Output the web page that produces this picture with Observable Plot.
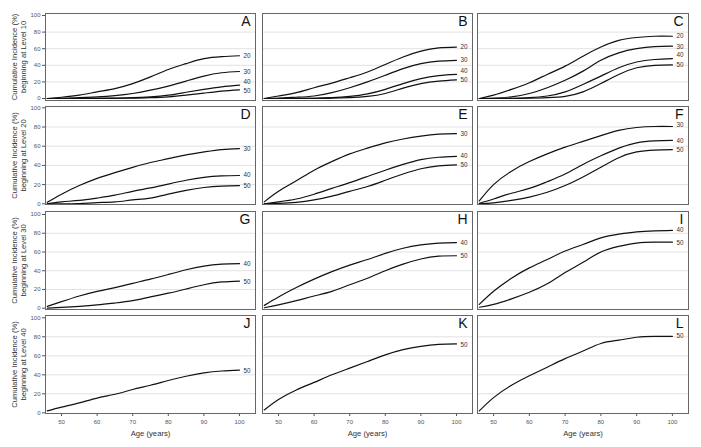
<!DOCTYPE html>
<html><head><meta charset="utf-8">
<script src="https://cdn.jsdelivr.net/npm/d3@7"></script>
<script src="https://cdn.jsdelivr.net/npm/@observablehq/plot@0.6"></script>
<style>
body{margin:0;background:#fff;}
#chart{position:relative;width:701px;height:447px;overflow:hidden;background:#fff;}
#chart svg{position:absolute;overflow:visible;}
</style></head><body><div id="chart"></div>
<script>
// ---- data ----
const ages = [46,50,55,60,65,70,75,80,85,90,95,100];
const startLevels = [10,20,30,40];
const rowLevels = [[20,30,40,50],[30,40,50],[40,50],[50]];
const panelLetters = [["A","B","C"],["D","E","F"],["G","H","I"],["J","K","L"]];
const xTicks = [50,60,70,80,90,100];
const yTicks = [0,20,40,60,80,100];

const seriesA = [
  [0,1.5,4,8,12,18,26,35,42,48,50.5,51.5],
  [0,0.3,1,2,3.5,6,10,15,21,27,31,32.5],
  [0,0,0.1,0.3,0.6,1,2,4,7.5,11,14,16],
  [0,0,0,0.1,0.2,0.4,1,2,4,6.5,9,10.5]
];
const seriesB = [
  [0,3,7,13,18.5,25,32,41,50,57,61,62],
  [0,0.5,1.5,3,7,13,20,28,36,42,45,46],
  [0,0,0.1,0.3,1,2.5,5.5,11,18,24,27.5,29],
  [0,0,0,0.1,0.3,1,2.5,6,12.5,18,21,22.5]
];
const seriesC = [
  [0,4,11,19,29,39,51,62,70,73.5,75,75],
  [0,0.5,2,6,13,22,33,46,55,60,62.5,63],
  [0,0,0.3,1,3,8,17,27,37,44,47,48],
  [0,0,0,0.3,1,2.5,8,18,29,37,40,40.5]
];
const seriesD = [
  [1.5,10,19,26.5,32.5,38,43,47,51,54,56.5,57.5],
  [0,2,3.5,6,9,13,16.5,20.5,24.5,27.5,29,29.5],
  [0,0,0.3,1.2,2,4,6,10,14,17,18.5,19]
];
const seriesE = [
  [2,13,24,35,44,52,58,63.5,67.5,70.5,72.5,73],
  [0,2,5,10,16,22,28.5,35,41,46,48.5,49.5],
  [0,0.5,1.5,4,8,13,18,24.5,31,36.5,39.5,40.5]
];
const seriesF = [
  [3,20,34,44,52,59,65,71,76.5,79.5,80.5,80.5],
  [0.5,5,11,16,23,31,41,50,58,63.5,65.5,66],
  [0,1,3.5,7,12,19,28,38,48,54,56,56.5]
];
const seriesG = [
  [2,7,13,18,22,26.5,31,36,41,45,47,47.5],
  [0,0.8,2,3.5,5.5,8,12,16,20.5,25,28,29]
];
const seriesH = [
  [3,12,22,31,39,46,52,58.5,64,67.5,69.5,70],
  [0.5,3.5,8,13,18,25,32,40,47,52.5,55.5,56]
];
const seriesI = [
  [4,18,32,43,52,61,68,75,79,81.5,82.5,83],
  [1,4,10,17,26,38,49,60,66,69.5,70.5,70.5]
];
const seriesJ = [[2,6,10.5,15.5,19.5,24.5,29,34,38.5,42,44,45]];
const seriesK = [[3,14,24,32,40,47,54,61,66.5,70,72,72.5]];
const seriesL = [[2,16,29,39,48,57,65,73,76.5,79.5,80.5,80.5]];

// end-label heights (values where the level labels sit)
const labelA = [51.4,32.5,20.5,9.6];
const labelB = [62.3,46.6,32.9,22.1];
const labelC = [75.2,62.6,52.6,40.6];
const labelD = [57.3,30.5,19];
const labelE = [72.9,50,40.6];
const labelF = [81.6,65.9,56.2];
const labelG = [47.4,28.5];
const labelH = [69.8,56.2];
const labelI = [83,70];
const labelJ = [44.5];
const labelK = [71.9];
const labelL = [80.6];

const seriesGrid = [[seriesA,seriesB,seriesC],[seriesD,seriesE,seriesF],[seriesG,seriesH,seriesI],[seriesJ,seriesK,seriesL]];
const labelGrid = [[labelA,labelB,labelC],[labelD,labelE,labelF],[labelG,labelH,labelI],[labelJ,labelK,labelL]];

// ---- layout ----
const colLeft = [45, 262, 477];
const colW = [210, 210, 211];
const rowTop = [13, 106, 211, 315];
const rowH = [87, 98, 98, 98];
const insT = [2, 1.3, 3, 2.3];
const insB = [2, 0.7, 1.3, 0.7];
const font = "'Liberation Sans', Arial, Helvetica, sans-serif";

const chart = document.getElementById("chart");

for (let r = 0; r < 4; r++) {
  for (let c = 0; c < 3; c++) {
    const mL = c === 0 ? 45 : 0;
    const mB = r === 3 ? 34 : 0;
    const levels = rowLevels[r];
    const ser = seriesGrid[r][c];
    const pts = [];
    levels.forEach((lv, k) => ages.forEach((a, i) => pts.push({age: a, v: ser[k][i], lv})));
    const labs = levels.map((lv, k) => ({lv, y: labelGrid[r][c][k]}));
    const marks = [
      Plot.gridY([20,40,60,80], {stroke: "#e2e2e2", strokeOpacity: 1, strokeWidth: 1}),
      Plot.line(pts, {x: "age", y: "v", z: "lv", curve: "natural", stroke: "#111", strokeWidth: 1.2}),
      Plot.text(labs, {x: () => 100, y: "y", text: d => String(d.lv), textAnchor: "start", dx: 4, fontSize: 6.3, fill: "#333"}),
      Plot.text([panelLetters[r][c]], {frameAnchor: "top-right", dx: -5, dy: 3, fontSize: 14, fill: "#111"}),
      Plot.frame({stroke: "#666", strokeWidth: 1})
    ];
    if (c === 0) {
      marks.push(Plot.text([`Cumulative Incidence (%)\nbeginning at Level ${startLevels[r]}`],
        {frameAnchor: "left", dx: -27, rotate: -90, fontSize: 7.6, lineHeight: 1.15, fill: "#333", textAnchor: "middle", lineAnchor: "middle"}));
    }
    if (r === 3) {
      marks.push(Plot.text(["Age (years)"], {frameAnchor: "bottom", dy: 20, fontSize: 7.7, fill: "#333", lineAnchor: "middle"}));
    }
    const svg = Plot.plot({
      width: mL + colW[c],
      height: rowH[r] + mB,
      marginLeft: mL, marginRight: 0, marginTop: 0, marginBottom: mB,
      insetTop: insT[r], insetBottom: insB[r],
      style: {fontFamily: font, fontSize: "6px", color: "#555", background: "transparent", overflow: "visible"},
      x: {domain: [45.5, 104.5], ticks: xTicks, tickSize: 3, tickPadding: 3, label: null, axis: r === 3 ? "bottom" : null},
      y: {domain: [0, 100], ticks: yTicks, tickSize: 3, tickPadding: 2, label: null, axis: c === 0 ? "left" : null},
      marks
    });
    svg.style.position = "absolute";
    svg.style.left = (colLeft[c] - mL) + "px";
    svg.style.top = rowTop[r] + "px";
    chart.appendChild(svg);
  }
}
</script></body></html>
